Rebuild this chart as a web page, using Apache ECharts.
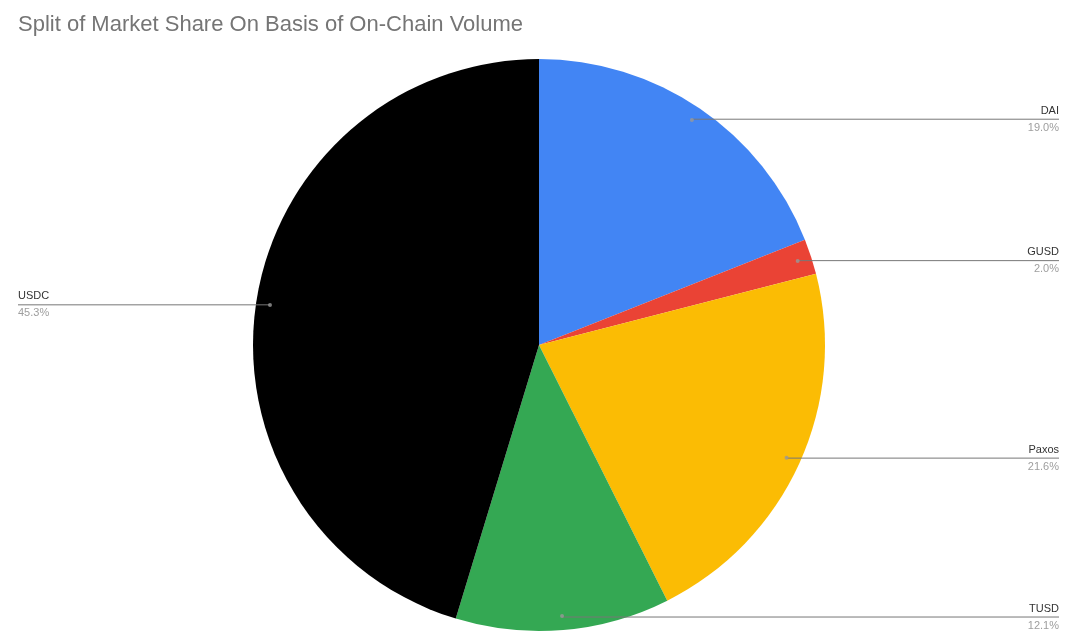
<!DOCTYPE html>
<html>
<head>
<meta charset="utf-8">
<script src="https://cdn.jsdelivr.net/npm/echarts@6/dist/echarts.min.js"></script>
<style>
html,body{margin:0;padding:0;background:#fff;}
#chart{width:1080px;height:642px;}
</style>
</head>
<body>
<div id="chart"></div>
<script>
// Data
const categories = ['DAI', 'GUSD', 'Paxos', 'TUSD', 'USDC'];
const shares = [19.0, 2.0, 21.6, 12.1, 45.3];
const colors = ['#4285f4', '#ea4335', '#fbbc04', '#34a853', '#000000'];
const chartTitle = 'Split of Market Share On Basis of On-Chain Volume';

const FONT = '"Liberation Sans", Arial, sans-serif';
const LABEL_SIZE = 11;

// measure label widths so the leader line runs under the label text
const cv = document.createElement('canvas').getContext('2d');
cv.font = LABEL_SIZE + 'px "Liberation Sans"';
function labelWidth(name, val) {
  return Math.max(cv.measureText(name).width, cv.measureText(val.toFixed(1) + '%').width);
}

const total = shares.reduce((a, b) => a + b, 0);
let cum = 0;
const dots = [];
const labelData = categories.map((name, i) => {
  const mid = cum + shares[i] / 2;
  cum += shares[i];
  dots.push([0.951, mid / total * 100]);
  const isLeft = mid / total > 0.5;
  return {
    name: name,
    value: shares[i],
    label: {
      edgeDistance: isLeft ? 18 : 21,
      distanceToLabelLine: -labelWidth(name, shares[i])
    }
  };
});

const pieData = categories.map((name, i) => ({
  name: name, value: shares[i], itemStyle: { color: colors[i] }
}));

const chart = echarts.init(document.getElementById('chart'), null, { renderer: 'canvas' });
chart.setOption({
  backgroundColor: '#ffffff',
  animation: false,
  title: {
    text: chartTitle,
    left: 18, top: 14, padding: 0,
    textStyle: { fontFamily: FONT, fontSize: 22, fontWeight: 'normal', color: '#757575' }
  },
  polar: { center: [539, 345], radius: 286 },
  angleAxis: { type: 'value', min: 0, max: 100, startAngle: 90, clockwise: true, show: false },
  radiusAxis: { type: 'value', min: 0, max: 1, show: false },
  series: [
    {
      type: 'pie',
      z: 2,
      center: [539, 345],
      radius: 286,
      startAngle: 90,
      clockwise: true,
      silent: true,
      label: { show: false },
      labelLine: { show: false },
      itemStyle: { borderWidth: 0 },
      emphasis: { disabled: true },
      data: pieData
    },
    {
      type: 'pie',
      z: 4,
      center: [539, 345],
      radius: 272,
      left: 0, top: 0, width: 1080, height: 642,
      startAngle: 90,
      clockwise: true,
      silent: true,
      avoidLabelOverlap: true,
      itemStyle: { color: 'rgba(0,0,0,0)', borderWidth: 0 },
      emphasis: { disabled: true },
      label: {
        show: true,
        position: 'outside',
        alignTo: 'edge',
        fontFamily: FONT,
        formatter: p => '{n|' + p.name + '}\n{p|' + p.value.toFixed(1) + '%}',
        rich: {
          n: { fontFamily: FONT, fontSize: LABEL_SIZE, color: '#333333', lineHeight: 17 },
          p: { fontFamily: FONT, fontSize: LABEL_SIZE, color: '#9e9e9e', lineHeight: 17 }
        }
      },
      labelLine: {
        show: true,
        showAbove: true,
        length: 1,
        length2: 30,
        lineStyle: { color: '#777777', width: 1 }
      },
      data: labelData
    },
    {
      type: 'scatter',
      coordinateSystem: 'polar',
      silent: true,
      symbol: 'circle',
      symbolSize: 4,
      itemStyle: { color: '#999999' },
      data: dots,
      z: 5
    }
  ]
});
</script>
</body>
</html>
